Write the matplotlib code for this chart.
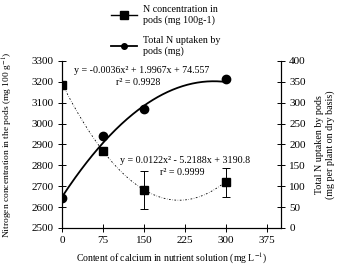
import numpy as np
import matplotlib
matplotlib.use("Agg")
import matplotlib.pyplot as plt
from matplotlib.lines import Line2D

plt.rcParams['font.family'] = ['Liberation Serif', 'DejaVu Serif']
plt.rcParams['mathtext.fontset'] = 'stix'
plt.rcParams['font.size'] = 8

# data
calcium = [0, 75, 150, 300]
n_conc = [3185, 2868, 2682, 2718]
n_conc_err = [0, 0, 90, 70]
n_uptake = [72, 220, 284, 356]

conc_fit = (0.0122, -5.2188, 3190.8)
uptake_fit = (-0.0036, 1.9967, 74.557)

fig = plt.figure(figsize=(3.45, 2.71), dpi=100)
ax = fig.add_axes([0.18, 0.159, 0.634, 0.616])
ax2 = ax.twinx()

xs = np.linspace(0, 300, 200)

# N concentration (left axis)
ax.plot(xs, np.polyval(conc_fit, xs), color='black', lw=0.6, ls=(0, (2, 2, 0.5, 2)))
ax.errorbar(calcium, n_conc, yerr=n_conc_err, fmt='s', color='black', ms=6,
            capsize=3, elinewidth=0.7, capthick=0.7, zorder=3)
ax.set_ylim(2500, 3300)
ax.set_yticks(range(2500, 3301, 100))
ax.set_xlim(0, 400)
ax.set_xticks([0, 75, 150, 225, 300, 375])
ax.set_ylabel('Nitrogen concentration in the pods (mg 100 g$^{-1}$)', fontsize=6.8)
ax.yaxis.set_label_coords(-0.215, 0.5)
ax.set_xlabel('Content of calcium in nutrient solution (mg L$^{-1}$)', fontsize=7)

# total N uptake (right axis)
ax2.plot(xs, np.polyval(uptake_fit, xs), color='black', lw=1.3)
ax2.plot(calcium, n_uptake, 'o', color='black', ms=6)
ax2.set_ylim(0, 400)
ax2.set_yticks(range(0, 401, 50))
ax2.set_ylabel('Total N uptaken by pods\n(mg per plant on dry basis)', fontsize=7.2)
ax2.yaxis.set_label_coords(1.155, 0.5)

for a in (ax, ax2):
    a.spines['top'].set_visible(False)
    a.tick_params(direction='inout', length=6, width=0.7, pad=3)
    for s in a.spines.values():
        s.set_linewidth(0.8)

ax.text(145, 3255, 'y = -0.0036x² + 1.9967x + 74.557', ha='center', va='center', fontsize=7.2)
ax.text(140, 3195, 'r² = 0.9928', ha='center', va='center', fontsize=7.2)
ax.text(225, 2825, 'y = 0.0122x² - 5.2188x + 3190.8', ha='center', va='center', fontsize=7.2)
ax.text(220, 2765, 'r² = 0.9999', ha='center', va='center', fontsize=7.2)

# legend above the axes
handles = [Line2D([], [], color='black', marker='s', ms=6, lw=1),
           Line2D([], [], color='black', marker='o', ms=4, lw=1.3)]
fig.legend(handles, ['N concentration in\npods (mg 100g-1)', 'Total N uptaken by\npods (mg)'],
           loc='upper left', bbox_to_anchor=(0.295, 1.015), frameon=False,
           fontsize=7.2, handlelength=2.6, labelspacing=1.1, handletextpad=0.6)

fig.savefig('out.png', dpi=100)
